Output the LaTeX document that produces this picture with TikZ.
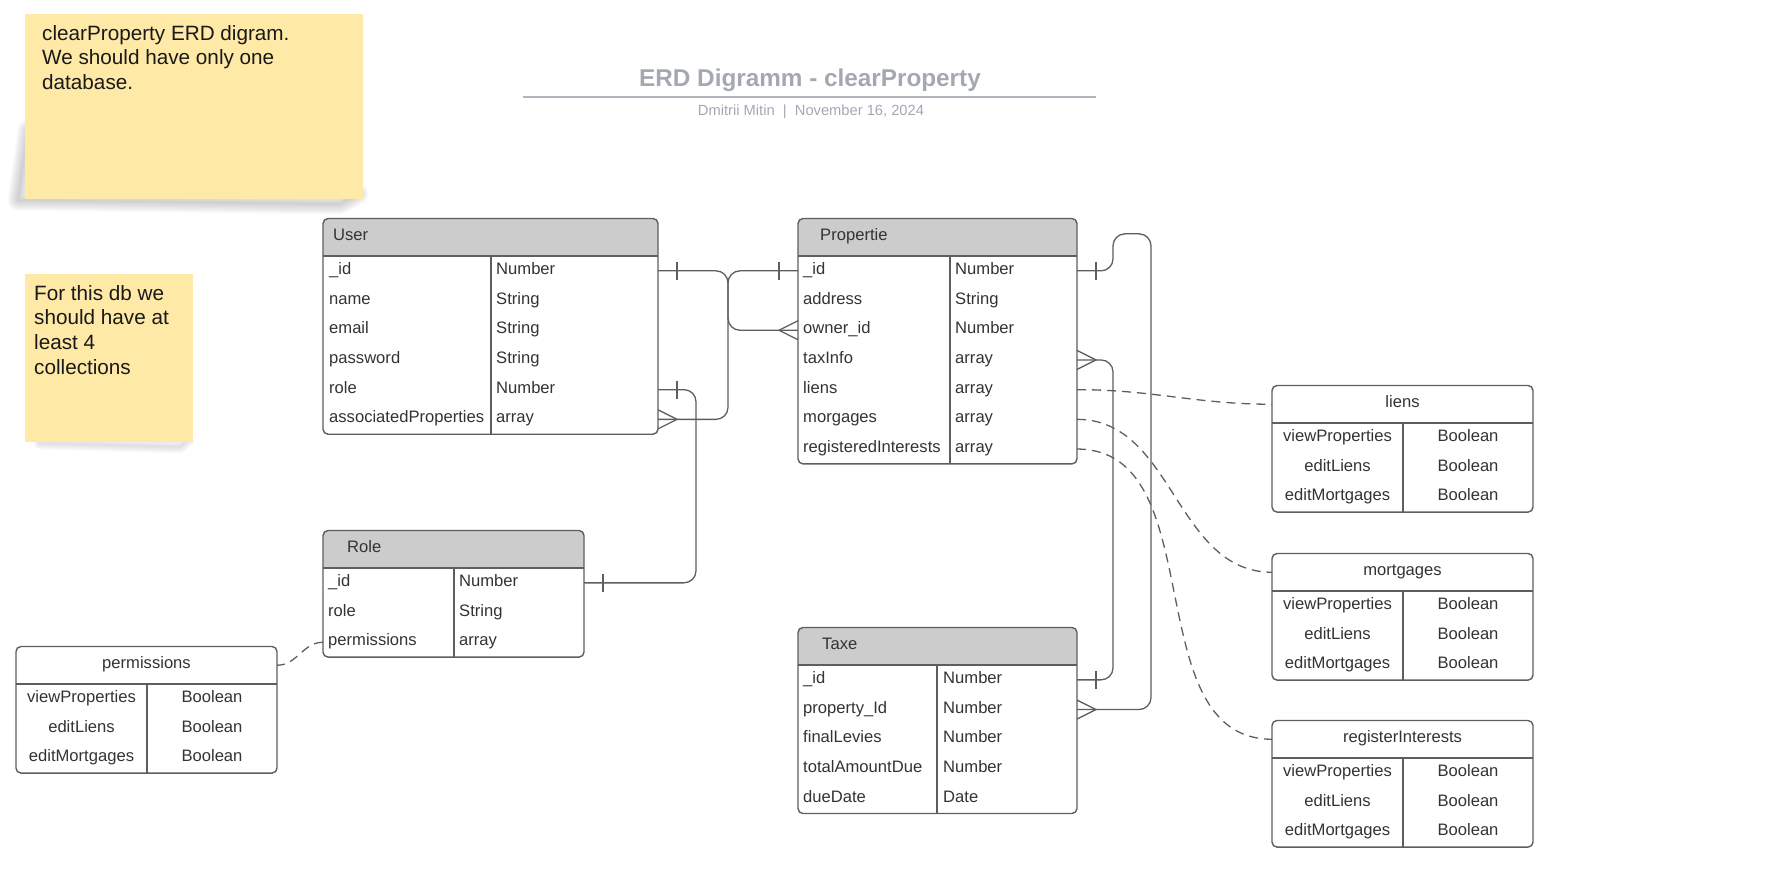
\documentclass[tikz,border=0pt]{standalone}
\usepackage{fontspec}
\setmainfont{Liberation Sans}
\usepackage{tikz}
\usetikzlibrary{positioning}
\definecolor{stickyyellow}{HTML}{FFE9A6}
\definecolor{headgray}{HTML}{CCCCCC}
\definecolor{linegray}{HTML}{5E5E5E}
\definecolor{textgray}{HTML}{333333}
\definecolor{titlegray}{HTML}{A4A8B1}

\begin{document}
\begin{tikzpicture}[
    x=1pt, y=-1pt,
    sticky/.style={fill=stickyyellow, inner sep=0pt, anchor=north west},
    stickytext/.style={anchor=north west, inner sep=0pt, align=left, text=black!90, font={\fontsize{20.7}{24.6}\selectfont}},
    shade/.style={draw=black!80, opacity=0.022, line join=round},
    head/.style={fill=headgray, rounded corners=5pt, inner sep=0pt, outer sep=0pt, minimum height=37.5pt},
    plainhead/.style={inner sep=0pt, outer sep=0pt, minimum height=37.5pt, text=textgray, text height=11pt, text depth=4pt, font={\fontsize{16.6}{20}\selectfont}},
    row/.style={inner sep=0pt, outer sep=0pt, minimum height=29.7pt},
    cell/.style={inner sep=0pt, text=textgray, text height=11pt, text depth=4pt, font={\fontsize{16.6}{20}\selectfont}},
    frame/.style={draw=linegray, line width=1.4pt, rounded corners=5pt},
    rel/.style={draw=linegray, line width=1.3pt, rounded corners=12pt},
    relend/.style={draw=linegray, line width=1.3pt},
    dashrel/.style={draw=linegray, line width=1.3pt, dash pattern=on 9pt off 6pt}
]
\useasboundingbox (0,0) rectangle (1776,890);

% Sticky notes
\foreach \w in {1,3,...,21}
  \draw[shade, line width=\w pt] (28,130) -- (18,200) -- (340,204) -- (358,194) -- cycle;
\foreach \w in {1,3,...,13}
  \draw[shade, line width=\w pt] (45,438) -- (40,443) -- (180,447) -- (188,440) -- cycle;
\node[sticky, minimum width=338pt, minimum height=185pt] (note1) at (25,14) {};
\node[stickytext] at (42,25) {clearProperty ERD digram.\\We should have only one\\database.};
\node[sticky, minimum width=168pt, minimum height=168pt] (note2) at (25,274) {};
\node[stickytext] at (34,285) {For this db we\\should have at\\least 4\\collections};

% Title
\node[text=titlegray, font={\bfseries\fontsize{24.3}{29}\selectfont}] (title) at (810,80.5) {ERD Digramm - clearProperty};
\draw[titlegray!85, line width=2pt] (523,97) -- (1096,97);
\node[text=titlegray, font={\fontsize{14.7}{18}\selectfont}] (byline) at (811,112) {Dmitrii Mitin\ \ |\ \ November 16, 2024};

% User
\node[head, minimum width=335pt] (user) at (490.5,237.25) {};
\fill[headgray] (user.west) rectangle (user.south east);
\node[cell, right=10pt of user.west] {User};
\foreach \key/\fld/\ty [count=\r] in {id/\_id/Number, name/name/String, email/email/String, pass/password/String, role/role/Number, assoc/associatedProperties/array}{
  \node[row, minimum width=335pt] (user-\key) at (490.5, {241.15+29.7*\r}) {};
  \node[cell, right=6pt of user-\key.west] {\fld};
  \node[cell, right=173pt of user-\key.west] {\ty};
}
\draw[frame] (user.north west) rectangle (user-assoc.south east);
\draw[frame] (user.south west) -- (user.south east)
  ([xshift=168pt]user.south west) -- ([xshift=168pt]user-assoc.south west);

% Propertie
\node[head, minimum width=279pt] (prop) at (937.5,237.25) {};
\fill[headgray] (prop.west) rectangle (prop.south east);
\node[cell, right=22pt of prop.west] {Propertie};
\foreach \key/\fld/\ty [count=\r] in {id/\_id/Number, addr/address/String, owner/owner\_id/Number, tax/taxInfo/array, liens/liens/array, morg/morgages/array, regint/registeredInterests/array}{
  \node[row, minimum width=279pt] (prop-\key) at (937.5, {241.15+29.7*\r}) {};
  \node[cell, right=5pt of prop-\key.west] {\fld};
  \node[cell, right=157pt of prop-\key.west] {\ty};
}
\draw[frame] (prop.north west) rectangle (prop-regint.south east);
\draw[frame] (prop.south west) -- (prop.south east)
  ([xshift=152pt]prop.south west) -- ([xshift=152pt]prop-regint.south west);

% Role
\node[head, minimum width=261pt] (role) at (453.5,549.25) {};
\fill[headgray] (role.west) rectangle (role.south east);
\node[cell, right=24pt of role.west] {Role};
\foreach \key/\fld/\ty [count=\r] in {id/\_id/Number, role/role/String, perm/permissions/array}{
  \node[row, minimum width=261pt] (role-\key) at (453.5, {553.15+29.7*\r}) {};
  \node[cell, right=5pt of role-\key.west] {\fld};
  \node[cell, right=136pt of role-\key.west] {\ty};
}
\draw[frame] (role.north west) rectangle (role-perm.south east);
\draw[frame] (role.south west) -- (role.south east)
  ([xshift=131pt]role.south west) -- ([xshift=131pt]role-perm.south west);

% Taxe
\node[head, minimum width=279pt] (taxe) at (937.5,646.25) {};
\fill[headgray] (taxe.west) rectangle (taxe.south east);
\node[cell, right=24pt of taxe.west] {Taxe};
\foreach \key/\fld/\ty [count=\r] in {id/\_id/Number, propid/property\_Id/Number, levies/finalLevies/Number, due/totalAmountDue/Number, date/dueDate/Date}{
  \node[row, minimum width=279pt] (taxe-\key) at (937.5, {650.15+29.7*\r}) {};
  \node[cell, right=5pt of taxe-\key.west] {\fld};
  \node[cell, right=145pt of taxe-\key.west] {\ty};
}
\draw[frame] (taxe.north west) rectangle (taxe-date.south east);
\draw[frame] (taxe.south west) -- (taxe.south east)
  ([xshift=139pt]taxe.south west) -- ([xshift=139pt]taxe-date.south west);

% Flag tables
\foreach \tb/\title/\cx/\hy in {perm/permissions/146.5/684, liens/liens/1402.5/423, mort/mortgages/1402.5/591, regint/registerInterests/1402.5/758}{
  \node[plainhead, minimum width=261pt] (\tb) at (\cx, {\hy-18.75}) {\title};
  \foreach \key/\fld [count=\r] in {view/viewProperties, liens/editLiens, morts/editMortgages}{
    \node[row, minimum width=261pt] (\tb-\key) at (\cx, {\hy-14.85+29.7*\r}) {};
    \node[cell] at ([xshift=-65pt]\tb-\key.center) {\fld};
    \node[cell] at ([xshift=65.5pt]\tb-\key.center) {Boolean};
  }
  \draw[frame] (\tb.north west) rectangle (\tb-morts.south east);
  \draw[frame] (\tb.south west) -- (\tb.south east)
    ([xshift=131pt]\tb.south west) -- ([xshift=131pt]\tb-morts.south west);
}

% User _id -> associatedProperties
\draw[rel] (user-id.east) -- ++(70,0) |- (user-assoc.east);
\draw[relend] ([xshift=19pt]user-id.east) ++(0,-9) -- ++(0,18);
\draw[relend] ([shift={(0,-9.5)}]user-assoc.east) -- ++(19,9.5) -- ++(-19,9.5);

% Propertie _id -> owner_id
\draw[rel] (prop-id.west) -- ++(-70,0) |- (prop-owner.west);
\draw[relend] ([xshift=-19pt]prop-id.west) ++(0,-9) -- ++(0,18);
\draw[relend] ([shift={(0,-9.5)}]prop-owner.west) -- ++(-19,9.5) -- ++(19,9.5);

% User role -> Role _id
\draw[rel] (user-role.east) -- ++(38,0) |- (role-id.east);
\draw[relend] ([xshift=19pt]user-role.east) ++(0,-9) -- ++(0,18);
\draw[relend] ([xshift=19pt]role-id.east) ++(0,-9) -- ++(0,18);

% Propertie _id -> Taxe property_Id
\draw[rel] (prop-id.east) -- ++(36,0) -- ++(0,-37) -- ++(38,0) |- (taxe-propid.east);
\draw[relend] ([xshift=19pt]prop-id.east) ++(0,-9) -- ++(0,18);
\draw[relend] ([shift={(0,-9.5)}]taxe-propid.east) -- ++(19,9.5) -- ++(-19,9.5);

% Propertie taxInfo -> Taxe _id
\draw[rel] (prop-tax.east) -- ++(36,0) |- (taxe-id.east);
\draw[relend] ([shift={(0,-9.5)}]prop-tax.east) -- ++(19,9.5) -- ++(-19,9.5);
\draw[relend] ([xshift=19pt]taxe-id.east) ++(0,-9) -- ++(0,18);

% Embedded arrays
\draw[dashrel] (prop-liens.east) to[out=0, in=180] (liens.west);
\draw[dashrel] (prop-morg.east) to[out=0, in=180] (mort.west);
\draw[dashrel] (prop-regint.east) to[out=0, in=180] (regint.west);
\draw[dashrel] (role-perm.west) to[out=180, in=0] (perm.east);

\end{tikzpicture}
\end{document}
